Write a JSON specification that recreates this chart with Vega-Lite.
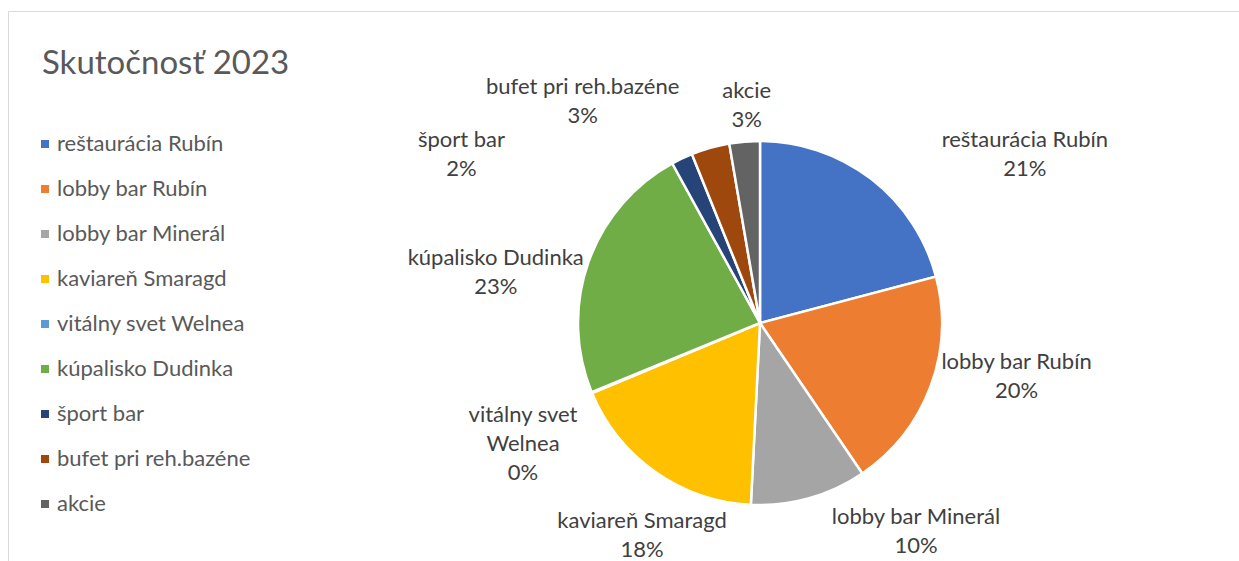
{
  "$schema": "https://vega.github.io/schema/vega-lite/v6.json",
  "width": 1504,
  "height": 624,
  "autosize": {"type": "none"},
  "padding": {"left": 8, "top": 11, "right": 0, "bottom": 0},
  "background": "white",
  "view": {"stroke": "#D9D9D9", "strokeWidth": 1, "fill": "white"},
  "config": {
    "view": {"stroke": "#D9D9D9", "strokeWidth": 1},
    "font": "Lato",
    "text": {"font": "Lato", "fontSize": 22, "color": "#404040", "lineBreak": "\n", "lineHeight": 29, "align": "center", "baseline": "middle"}
  },
  "data": {
    "values": [
      {"i": 1, "name": "reštaurácia Rubín", "value": 20.9, "label": "reštaurácia Rubín\n21%"},
      {"i": 2, "name": "lobby bar Rubín", "value": 19.6, "label": "lobby bar Rubín\n20%"},
      {"i": 3, "name": "lobby bar Minerál", "value": 10.3, "label": "lobby bar Minerál\n10%"},
      {"i": 4, "name": "kaviareň Smaragd", "value": 17.9, "label": "kaviareň Smaragd\n18%"},
      {"i": 5, "name": "vitálny svet Welnea", "value": 0.1, "label": "vitálny svet\nWelnea\n0%"},
      {"i": 6, "name": "kúpalisko Dudinka", "value": 23.2, "label": "kúpalisko Dudinka\n23%"},
      {"i": 7, "name": "šport bar", "value": 1.9, "label": "šport bar\n2%"},
      {"i": 8, "name": "bufet pri reh.bazéne", "value": 3.4, "label": "bufet pri reh.bazéne\n3%"},
      {"i": 9, "name": "akcie", "value": 2.7, "label": "akcie\n3%"}
    ]
  },
  "encoding": {
    "theta": {"field": "value", "type": "quantitative", "stack": true},
    "order": {"field": "i", "type": "quantitative"}
  },
  "layer": [
    {
      "mark": {"type": "arc", "outerRadius": 182, "stroke": "white", "strokeWidth": 2.5},
      "encoding": {
        "color": {
          "field": "name",
          "type": "nominal",
          "sort": null,
          "scale": {
            "domain": ["reštaurácia Rubín", "lobby bar Rubín", "lobby bar Minerál", "kaviareň Smaragd", "vitálny svet Welnea", "kúpalisko Dudinka", "šport bar", "bufet pri reh.bazéne", "akcie"],
            "range": ["#4472C4", "#ED7D31", "#A5A5A5", "#FFC000", "#5B9BD5", "#70AD47", "#264478", "#9E480E", "#636363"]
          },
          "legend": {
            "title": "Skutočnosť 2023",
            "titleFont": "Lato",
            "titleFontSize": 33,
            "titleFontWeight": "normal",
            "titleColor": "#595959",
            "titlePadding": 52,
            "titleLimit": 600,
            "titleAnchor": "start",
            "orient": "none",
            "legendX": 34,
            "legendY": 37,
            "padding": 0,
            "symbolType": "square",
            "symbolSize": 64,
            "symbolStrokeWidth": 0,
            "symbolOffset": -8,
            "labelFont": "Lato",
            "labelFontSize": 22,
            "labelColor": "#595959",
            "labelOffset": 1,
            "rowPadding": 23,
            "labelLimit": 400
          }
        }
      }
    },
    {"mark": {"type": "text", "radius": 314, "thetaOffset": 0.347, "dy": -14.5}, "encoding": {"text": {"condition": {"test": "datum.i === 1", "field": "label"}, "value": ""}}},
    {"mark": {"type": "text", "radius": 262, "thetaOffset": -0.154, "dy": -14.5}, "encoding": {"text": {"condition": {"test": "datum.i === 2", "field": "label"}, "value": ""}}},
    {"mark": {"type": "text", "radius": 260, "thetaOffset": -0.370, "dy": -14.5}, "encoding": {"text": {"condition": {"test": "datum.i === 3", "field": "label"}, "value": ""}}},
    {"mark": {"type": "text", "radius": 243, "thetaOffset": -0.106, "dy": -14.5}, "encoding": {"text": {"condition": {"test": "datum.i === 4", "field": "label"}, "value": ""}}},
    {"mark": {"type": "text", "radius": 266, "thetaOffset": -0.079, "dy": -29}, "encoding": {"text": {"condition": {"test": "datum.i === 5", "field": "label"}, "value": ""}}},
    {"mark": {"type": "text", "radius": 269, "thetaOffset": -0.152, "dy": -14.5}, "encoding": {"text": {"condition": {"test": "datum.i === 6", "field": "label"}, "value": ""}}},
    {"mark": {"type": "text", "radius": 343, "thetaOffset": -0.613, "dy": -14.5}, "encoding": {"text": {"condition": {"test": "datum.i === 7", "field": "label"}, "value": ""}}},
    {"mark": {"type": "text", "radius": 284, "thetaOffset": -0.398, "dy": -14.5}, "encoding": {"text": {"condition": {"test": "datum.i === 8", "field": "label"}, "value": ""}}},
    {"mark": {"type": "text", "radius": 218, "thetaOffset": 0.024, "dy": -14.5}, "encoding": {"text": {"condition": {"test": "datum.i === 9", "field": "label"}, "value": ""}}}
  ]
}
